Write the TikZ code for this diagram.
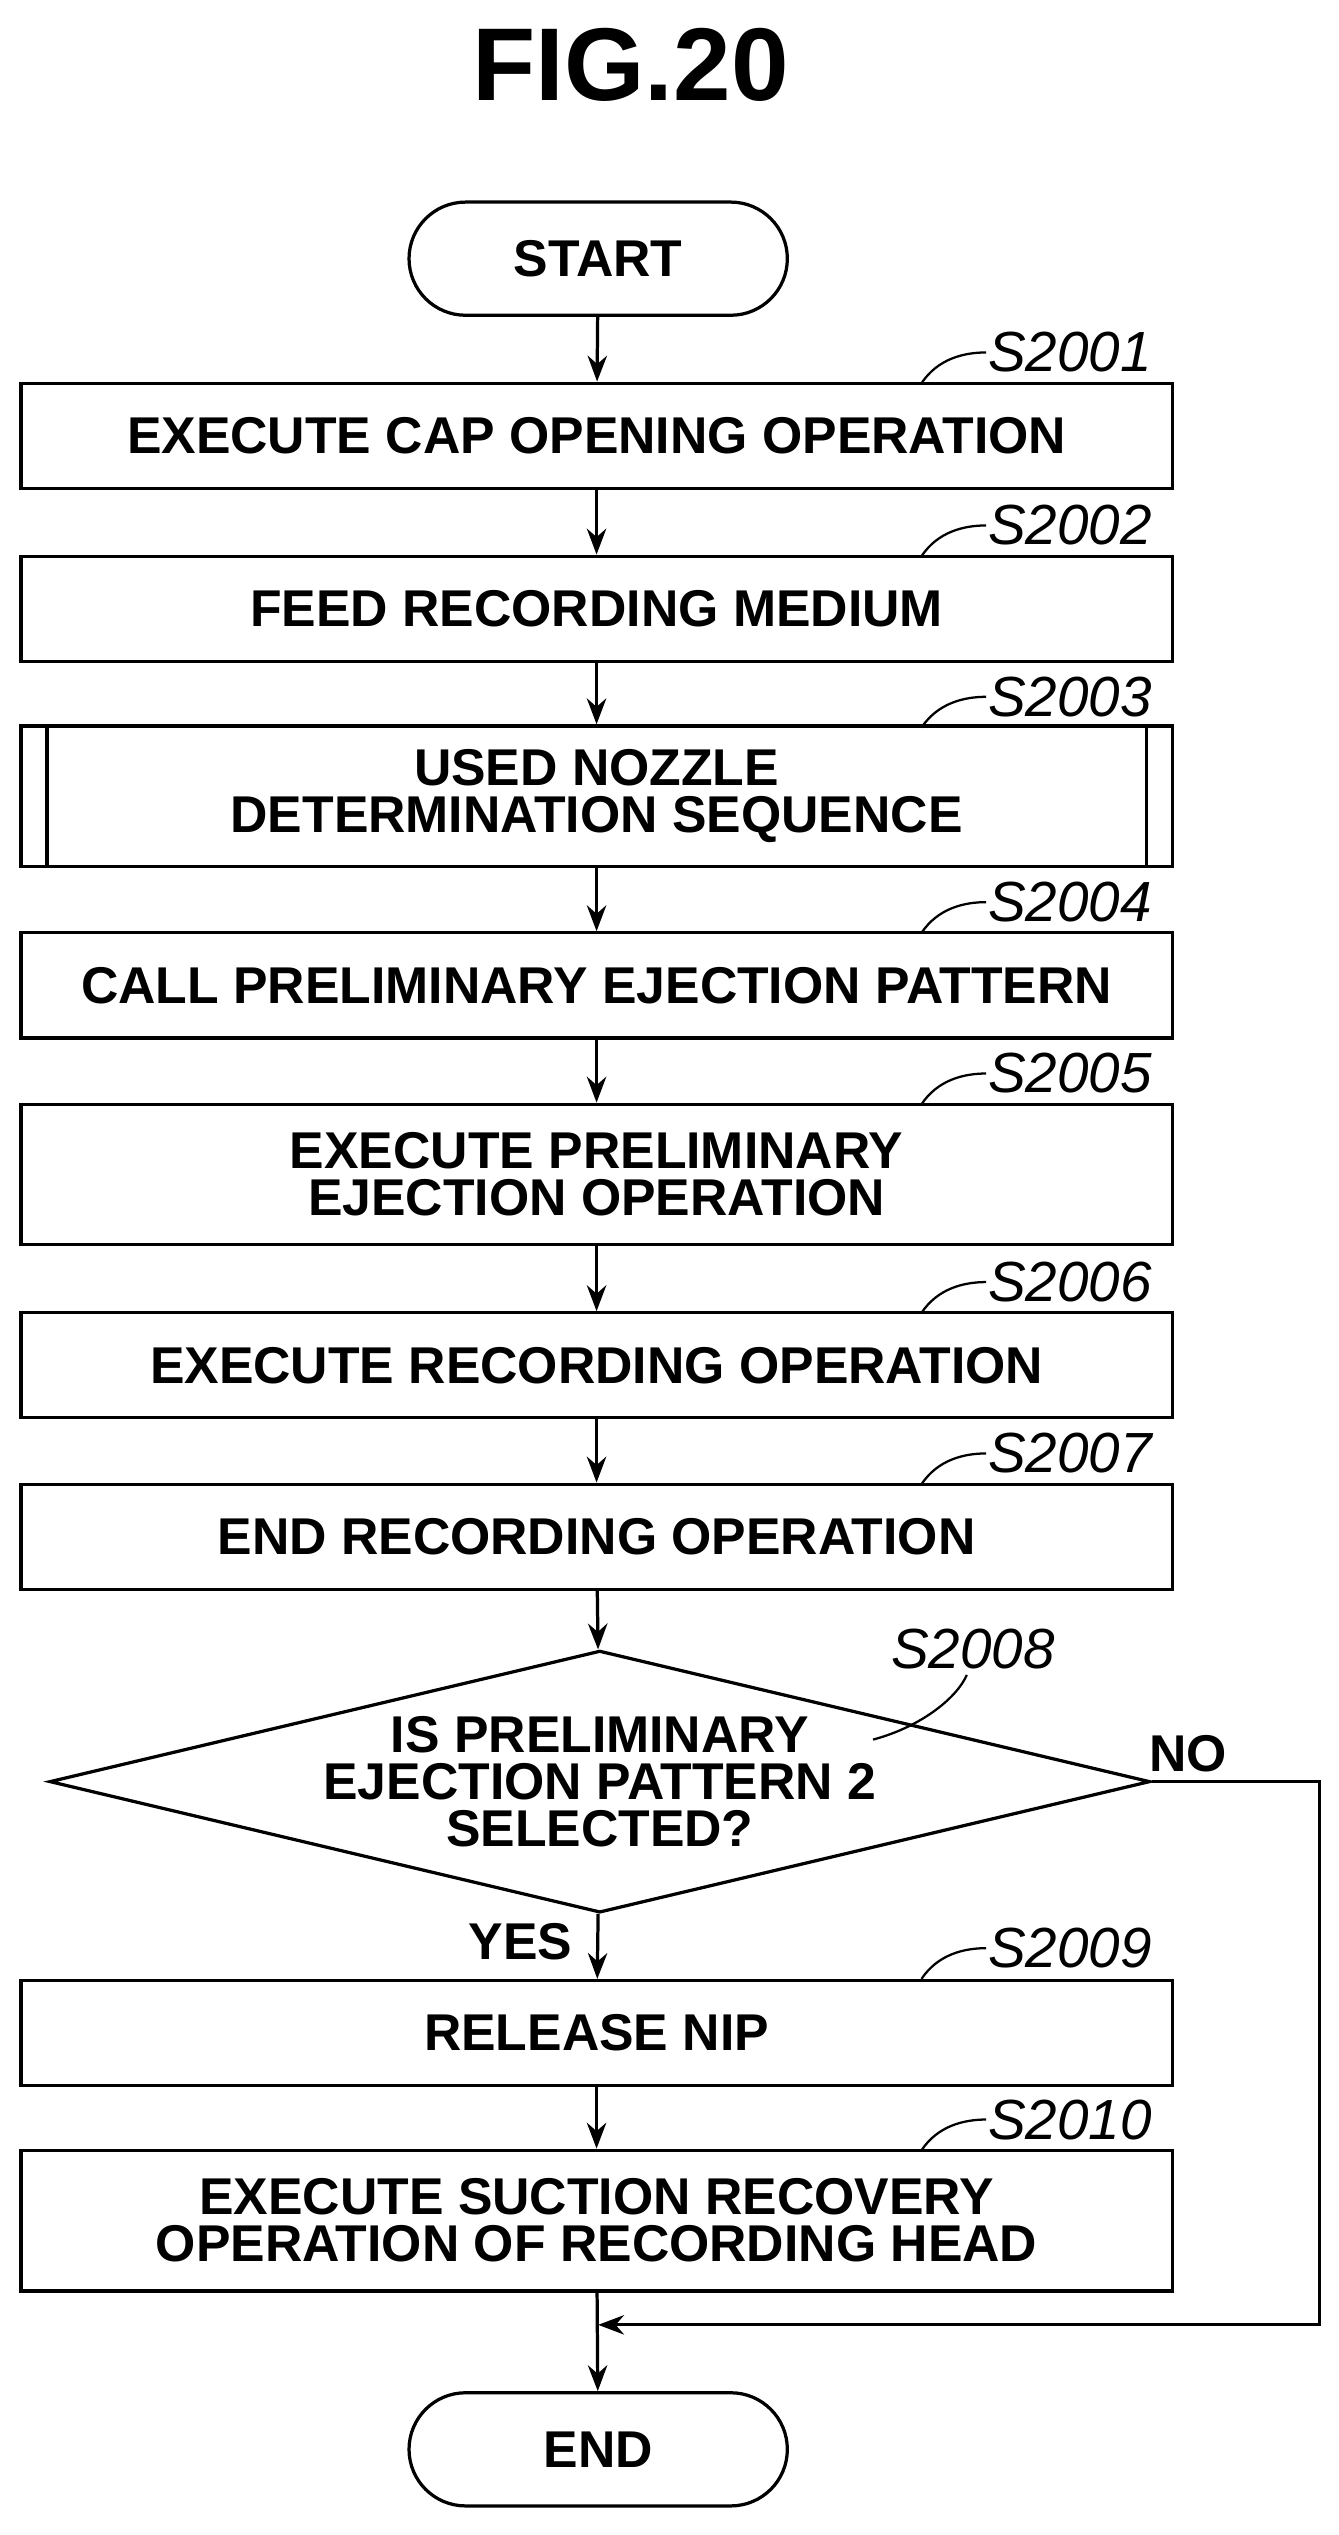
\documentclass[tikz,border=0pt]{standalone}
\usepackage{fontspec}
\setmainfont{Liberation Sans}
\usetikzlibrary{arrows.meta,shapes.geometric}
\begin{document}
\begin{tikzpicture}[x=1pt,y=-1pt,
 box/.style={draw,line width=2pt,minimum width=712pt,align=center,font=\fontsize{32}{29}\selectfont\bfseries,inner sep=0pt},
 pill/.style={draw,line width=2pt,rounded corners=35pt,minimum width=234pt,minimum height=70pt,font=\fontsize{32}{29}\selectfont\bfseries},
 lab/.style={font=\fontsize{35}{35}\selectfont\itshape,anchor=west,inner sep=1pt},
 lead/.style={line width=1.4pt},
 arr/.style={line width=2pt,-{Stealth[length=16pt,width=12pt]}}]
\useasboundingbox (0,0) rectangle (828,1568);
\node[font=\fontsize{64}{64}\selectfont\bfseries] (title) at (390,40) {FIG.20};
\node[pill] (start) at (370,160) {START};
\node[box,minimum height=65pt] (b1) at (369,269.5) {EXECUTE CAP OPENING OPERATION};
\node[box,minimum height=65pt] (b2) at (369,376.5) {FEED RECORDING MEDIUM};
\node[box,minimum height=87pt] (b3) at (369,492.5) {USED NOZZLE\\DETERMINATION SEQUENCE};
\draw[line width=2pt] (29,449)--(29,536) (709,449)--(709,536);
\node[box,minimum height=65pt] (b4) at (369,609.5) {CALL PRELIMINARY EJECTION PATTERN};
\node[box,minimum height=87pt] (b5) at (369,726.5) {EXECUTE PRELIMINARY\\EJECTION OPERATION};
\node[box,minimum height=65pt] (b6) at (369,844.5) {EXECUTE RECORDING OPERATION};
\node[box,minimum height=65pt] (b7) at (369,950.5) {END RECORDING OPERATION};
\node[draw,line width=2pt,diamond,aspect=4.2,minimum width=672pt,minimum height=160pt,inner sep=0pt,align=center,font=\fontsize{32}{29}\selectfont\bfseries] (d) at (371,1102) {IS PRELIMINARY\\EJECTION PATTERN 2\\SELECTED?};
\node[box,minimum height=65pt] (b9) at (369,1257.5) {RELEASE NIP};
\node[box,minimum height=87pt] (b10) at (369,1373.5) {EXECUTE SUCTION RECOVERY\\OPERATION OF RECORDING HEAD};
\node[pill] (end) at (370,1515) {END};
\foreach \n/\t/\y in {b1/S2001/218,b2/S2002/325,b3/S2003/431,b4/S2004/558,b5/S2005/664,b6/S2006/793,b7/S2007/899,b9/S2009/1205,b10/S2010/1311}{
 \node[lab] (l\n) at (610,\y) {\t};
 \draw[lead] (570,\y+19) .. controls (580,\y+4) and (596,\y) .. (l\n.west);
}
\node[lab] (l8) at (550,1020) {S2008};
\draw[lead] (540,1076) .. controls (570,1068) and (592,1050) .. (598,1036);
\node[font=\fontsize{32}{32}\selectfont\bfseries] (no) at (735,1085) {NO};
\node[font=\fontsize{32}{32}\selectfont\bfseries] (yes) at (322,1201) {YES};
\draw[arr] (start)--(b1);
\draw[arr] (b1)--(b2);
\draw[arr] (b2)--(b3);
\draw[arr] (b3)--(b4);
\draw[arr] (b4)--(b5);
\draw[arr] (b5)--(b6);
\draw[arr] (b6)--(b7);
\draw[arr] (b7)--(d);
\draw[arr] (d)--(b9);
\draw[arr] (b9)--(b10);
\draw[arr] (b10)--(end);
\coordinate (j) at (370,1438);
\draw[arr] (d.east)--(816,1102)--(816,1438)--(j);
\end{tikzpicture}
\end{document}
